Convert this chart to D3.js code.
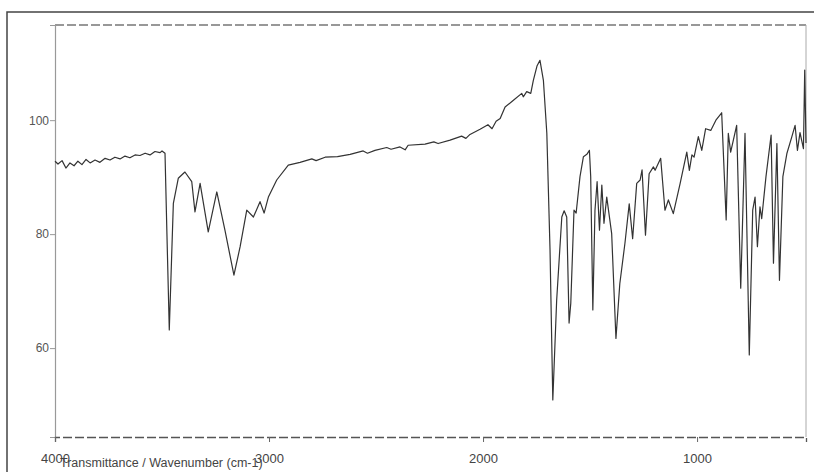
<!DOCTYPE html>
<html>
<head>
<meta charset="utf-8">
<script src="https://cdn.jsdelivr.net/npm/d3@7"></script>
<style>
  body { margin: 0; background: #fff; }
  text { font-family: "Liberation Sans", Arial, sans-serif; }
</style>
</head>
<body>
<div id="chart"></div>
<script>
// IR spectrum, values
var wavenumber = [
  4000, 3986, 3967, 3949, 3930, 3911, 3893, 3874, 3855, 3836, 3813, 3790, 3766, 3743,
  3720, 3696, 3673, 3650, 3626, 3603, 3579, 3556, 3533, 3509, 3500, 3486, 3477, 3466,
  3447, 3424, 3393, 3361, 3346, 3322, 3284, 3244, 3206, 3164, 3135, 3104, 3073, 3042,
  3023, 3003, 2964, 2910, 2855, 2800, 2780, 2738, 2680, 2621, 2560, 2540, 2505, 2450,
  2430, 2388, 2364, 2350, 2271, 2230, 2210, 2154, 2100, 2080, 2061,
  2014, 1977, 1958, 1939, 1920, 1897, 1858, 1819, 1812, 1796, 1777, 1765, 1748, 1734,
  1718, 1702, 1687, 1674, 1656, 1632, 1621, 1609, 1598, 1590, 1575, 1565, 1547, 1531,
  1515, 1503, 1497, 1487, 1477, 1467, 1456, 1445, 1435, 1422, 1399, 1379, 1361, 1337,
  1317, 1301, 1282, 1266, 1257, 1241, 1224, 1204, 1196, 1170, 1150, 1134, 1111, 1079,
  1048, 1036, 1024, 1014, 994, 978, 960, 936, 912, 885, 864, 854, 843, 815,
  796, 776, 756, 740, 729, 718, 706, 698, 678, 654, 643, 627, 615, 599,
  580, 557, 542, 531, 519, 503, 497, 491
];
var transmittance = [
  92.8, 92.3, 92.9, 91.6, 92.5, 92.0, 92.8, 92.2, 93.1, 92.5, 93.0, 92.6, 93.3, 93.0,
  93.5, 93.2, 93.7, 93.4, 93.9, 93.8, 94.2, 93.9, 94.5, 94.3, 94.6, 94.2, 80.0, 63.2,
  85.4, 89.8, 90.9, 89.2, 83.9, 88.9, 80.4, 87.4, 80.7, 72.8, 77.8, 84.2, 83.0, 85.7,
  83.7, 86.5, 89.5, 92.1, 92.6, 93.2, 92.9, 93.5, 93.6, 94.0, 94.6, 94.2, 94.7, 95.2,
  94.9, 95.3, 94.8, 95.6, 95.8, 96.2, 95.9, 96.5, 97.2, 96.8, 97.5,
  98.4, 99.2, 98.5, 99.8, 100.3, 102.3, 103.5, 104.7, 104.1, 105.0, 104.7, 107.0, 109.5, 110.5,
  107.0, 97.7, 77.2, 50.9, 68.4, 83.0, 84.1, 83.0, 64.4, 67.9, 84.2, 83.7, 90.1, 93.6,
  94.0, 94.7, 90.1, 66.7, 84.2, 89.2, 80.7, 88.6, 81.9, 86.5, 80.1, 61.7, 71.3, 78.4,
  85.3, 79.2, 88.9, 89.5, 91.3, 79.8, 90.6, 91.8, 91.2, 93.3, 84.2, 86.0, 83.6, 88.9,
  94.4, 91.2, 93.9, 93.5, 97.1, 94.7, 98.5, 98.2, 100.0, 101.3, 82.5, 97.7, 94.4, 99.1,
  70.5, 97.7, 58.8, 84.2, 86.5, 77.8, 84.8, 82.7, 90.1, 97.4, 74.9, 95.9, 71.9, 90.1,
  94.2, 97.1, 99.1, 94.7, 97.8, 95.0, 108.8, 96.0
];
var xTicks = [4000, 3000, 2000, 1000];
var yTicks = [60, 80, 100];
var axisTitle = "Transmittance / Wavenumber (cm-1)";

var width = 815, height = 472;
var m = {left: 55, right: 806, top: 25, bottom: 437};

var svg = d3.select('#chart').append('svg')
    .attr('width', width)
    .attr('height', height);

// outer frame (top and left edges only are visible in the scan)
svg.append('path')
   .attr('d', 'M7,472 V12 H814')
   .attr('fill', 'none')
   .attr('stroke', '#444')
   .attr('stroke-width', 1.5);

var x = d3.scaleLinear().domain([4000, 491]).range([m.left, m.right]);
var y = d3.scaleLinear().domain([44.4, 116.7]).range([m.bottom, m.top]);

// plot box
svg.append('line')
   .attr('x1', m.left).attr('x2', m.right).attr('y1', m.top).attr('y2', m.top)
   .attr('stroke', '#777').attr('stroke-width', 1.3).attr('stroke-dasharray', '9,3');
svg.append('line')
   .attr('x1', m.right).attr('x2', m.right).attr('y1', m.top).attr('y2', m.bottom)
   .attr('stroke', '#aaa').attr('stroke-width', 1);

var yAxis = svg.append('g')
    .attr('transform', 'translate(' + m.left + ',0)')
    .call(d3.axisLeft(y).tickValues(yTicks).tickSize(5).tickPadding(1));
yAxis.select('.domain').attr('stroke', '#999').attr('stroke-width', 1.2);
yAxis.selectAll('.tick line').attr('stroke', '#999');
yAxis.selectAll('text').attr('font-size', 12).attr('fill', '#555');

var xAxis = svg.append('g')
    .attr('transform', 'translate(0,' + m.bottom + ')')
    .call(d3.axisBottom(x).tickValues(xTicks).tickFormat(d3.format('d')).tickSize(5).tickPadding(12));
xAxis.select('.domain').attr('stroke', '#555').attr('stroke-width', 1.3).attr('stroke-dasharray', '9,3');
xAxis.selectAll('.tick line').attr('stroke', '#666');
xAxis.selectAll('text').attr('font-size', 13).attr('fill', '#444');

// the axis title runs over the 4000 and 3000 labels, as in the scan
svg.append('text')
   .attr('x', 60)
   .attr('y', m.bottom + 30)
   .attr('font-size', 12.5)
   .attr('fill', '#444')
   .text(axisTitle);

var pts = d3.zip(wavenumber, transmittance);
var line = d3.line()
    .x(function(d) { return x(d[0]); })
    .y(function(d) { return y(d[1]); });

svg.append('path')
   .datum(pts)
   .attr('d', line)
   .attr('fill', 'none')
   .attr('stroke', '#333')
   .attr('stroke-width', 1.2)
   .attr('stroke-linejoin', 'round');
</script>
</body>
</html>
